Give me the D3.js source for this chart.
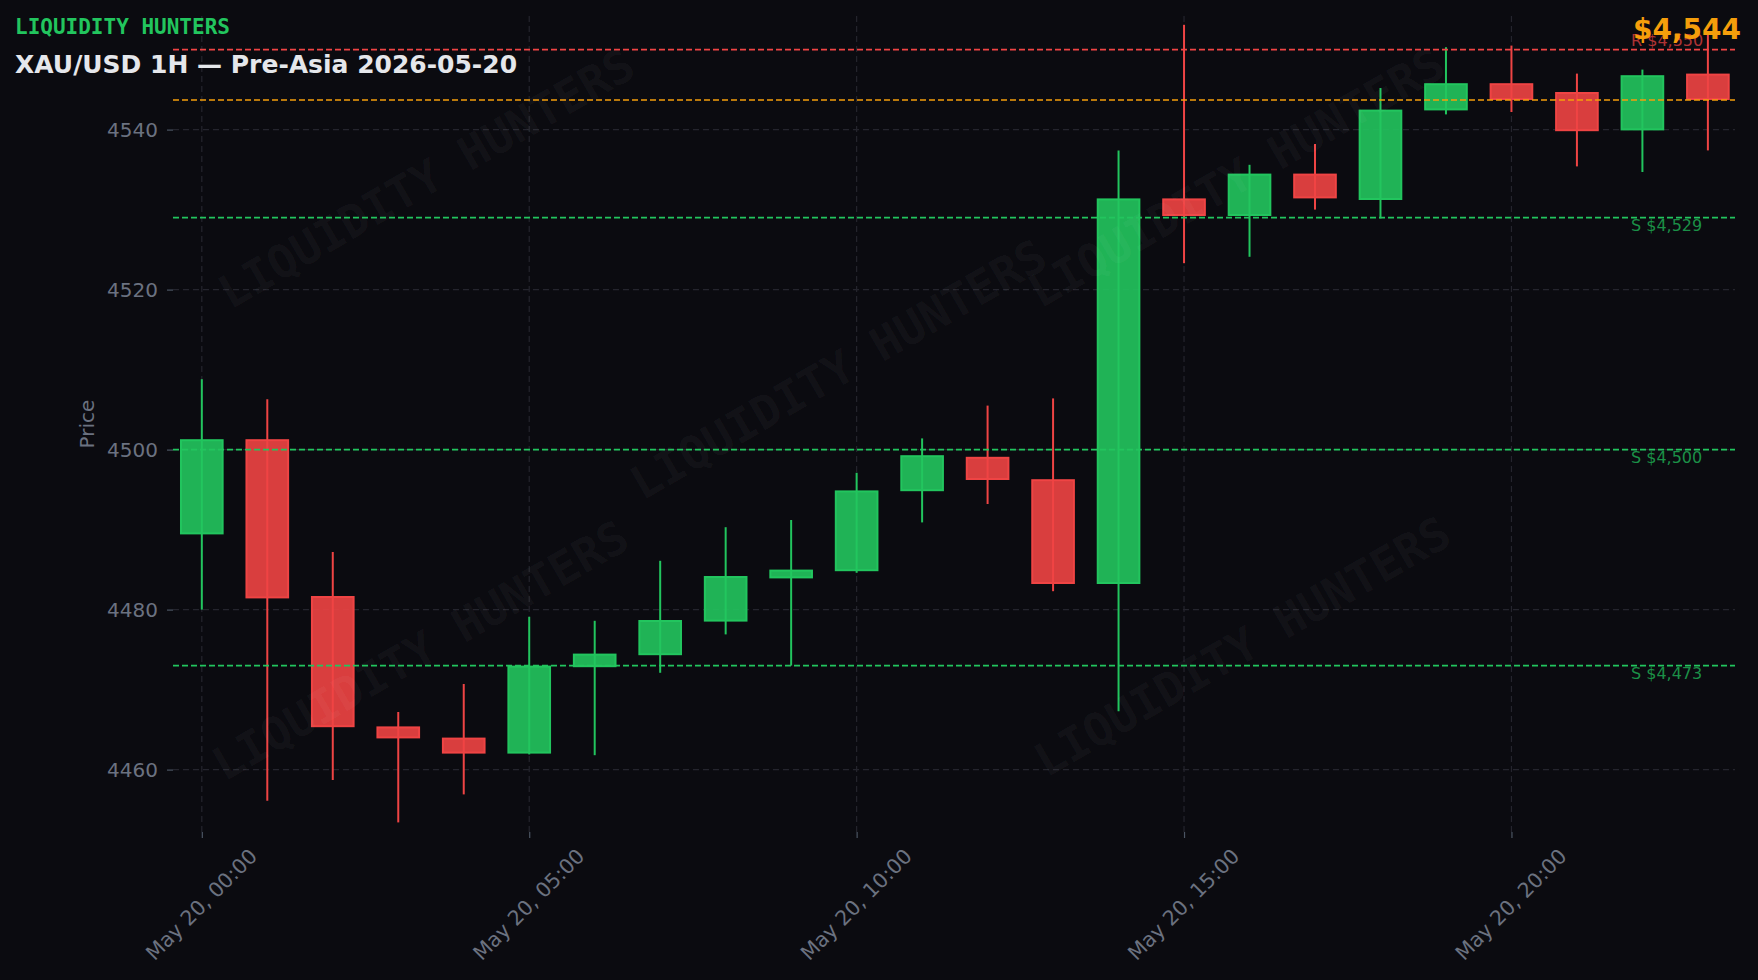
<!DOCTYPE html>
<html><head><meta charset="utf-8">
<script src="https://cdn.jsdelivr.net/npm/d3@7"></script>
<style>
html,body{margin:0;padding:0;background:#0b0b10;}
svg{display:block;}
</style></head><body>
<svg id="chart" width="1758" height="980"></svg>
<script>
// ---------- data ----------
const brand = "LIQUIDITY HUNTERS";
const title = "XAU/USD 1H — Pre-Asia 2026-05-20";
const sessionDate = "2026-05-20";
const hourLabels = ["00:00","01:00","02:00","03:00","04:00","05:00","06:00","07:00","08:00","09:00","10:00","11:00",
                    "12:00","13:00","14:00","15:00","16:00","17:00","18:00","19:00","20:00","21:00","22:00","23:00"];
const opens  = [4489.4,4501.3,4481.7,4465.4,4464.0,4462.0,4472.8,4474.3,4478.5,4483.9,4484.8,4494.8,
                4499.1,4496.3,4483.2,4531.4,4529.2,4534.5,4531.2,4542.4,4545.8,4544.7,4539.9,4547.0];
const highs  = [4508.8,4506.3,4487.2,4467.2,4470.7,4479.1,4478.6,4486.1,4490.3,4491.2,4497.1,4501.4,
                4505.5,4506.4,4537.4,4553.1,4535.6,4538.2,4545.2,4550.3,4550.5,4547.0,4547.5,4552.0];
const lows   = [4480.0,4456.1,4458.7,4453.4,4456.9,4461.9,4461.8,4472.1,4476.9,4473.0,4484.6,4490.9,
                4493.2,4482.3,4467.3,4523.3,4524.1,4530.0,4528.9,4541.9,4542.2,4535.4,4534.7,4537.4];
const closes = [4501.3,4481.4,4465.3,4463.9,4462.0,4473.0,4474.5,4478.7,4484.2,4485.0,4494.9,4499.3,
                4496.2,4483.2,4531.4,4529.2,4534.5,4531.4,4542.5,4545.8,4543.7,4539.8,4546.8,4543.7];
const resistanceLevels = [4550];
const supportLevels = [4529, 4500, 4473];
const currentPrice = 4543.7;
const yTickValues = [4460, 4480, 4500, 4520, 4540];
const yAxisTitle = "Price";

// ---------- layout ----------
const W = 1758, H = 980;
const M = {left: 173, right: 1735, top: 16, bottom: 832};
const C = {bg:"#0b0b10", green:"#22c55e", red:"#ef4444", orange:"#f59e0b", grid:"#25252e",
           tick:"#6b7280", title:"#e5e7eb"};
const HOUR = 3600e3;

const candles = hourLabels.map((h, i) => ({
  t: new Date(`${sessionDate}T${h}:00Z`),
  o: opens[i], h: highs[i], l: lows[i], c: closes[i]
}));
const t0 = candles[0].t.getTime();
const tN = candles[candles.length - 1].t.getTime();

const x = d3.scaleUtc()
  .domain([new Date(t0 - 0.44 * HOUR), new Date(tN + 0.414 * HOUR)])
  .range([M.left, M.right]);
const y = d3.scaleLinear().domain([4452.2, 4554.2]).range([M.bottom, M.top]);

const svg = d3.select("#chart");
svg.append("rect").attr("width", W).attr("height", H).attr("fill", C.bg);

svg.append("defs").append("clipPath").attr("id", "plotclip")
  .append("rect").attr("x", M.left).attr("y", M.top)
  .attr("width", M.right - M.left).attr("height", M.bottom - M.top);

// ---------- grid ----------
const xTicks = d3.utcHour.every(5).range(new Date(t0), new Date(tN + 1));
const grid = svg.append("g");
grid.selectAll(".gy").data(yTickValues).join("line")
  .attr("x1", M.left).attr("x2", M.right)
  .attr("y1", d => y(d)).attr("y2", d => y(d))
  .attr("stroke", C.grid).attr("stroke-width", 1.2).attr("stroke-dasharray", "6,4");
grid.selectAll(".gx").data(xTicks).join("line")
  .attr("x1", d => x(d)).attr("x2", d => x(d))
  .attr("y1", M.top).attr("y2", M.bottom)
  .attr("stroke", C.grid).attr("stroke-width", 1.2).attr("stroke-dasharray", "6,4");

// ---------- axes ----------
const xAxis = svg.append("g").attr("transform", `translate(0,${M.bottom})`)
  .call(d3.axisBottom(x).tickValues(xTicks).tickFormat(d3.utcFormat("%b %d, %H:%M")).tickSize(6));
xAxis.select(".domain").remove();
xAxis.selectAll(".tick line").attr("stroke", "#4b5563").attr("stroke-width", 1.2);
xAxis.selectAll(".tick text")
  .attr("y", 0).attr("dy", "0.35em")
  .attr("transform", "translate(-1,72.5) rotate(-45)")
  .attr("text-anchor", "middle")
  .attr("fill", C.tick).style("font", "20.5px 'DejaVu Sans'");

const yAxis = svg.append("g").attr("transform", `translate(${M.left},0)`)
  .call(d3.axisLeft(y).tickValues(yTickValues).tickFormat(d3.format("d")).tickSize(6).tickPadding(9));
yAxis.select(".domain").remove();
yAxis.selectAll(".tick line").attr("stroke", "#4b5563").attr("stroke-width", 1.2);
yAxis.selectAll(".tick text").attr("fill", C.tick).style("font", "20px 'DejaVu Sans'");

svg.append("text")
  .attr("transform", `translate(87,${(M.top + M.bottom) / 2}) rotate(-90)`)
  .attr("text-anchor", "middle").attr("dy", "0.35em")
  .attr("fill", C.tick).style("font", "20px 'DejaVu Sans'")
  .text(yAxisTitle);

// ---------- candles ----------
const bw = x(new Date(t0 + HOUR / 3)) - x(new Date(t0 - HOUR / 3));
const cg = svg.append("g").attr("clip-path", "url(#plotclip)");
const col = d => d.c >= d.o ? C.green : C.red;
cg.selectAll(".wick").data(candles).join("line")
  .attr("x1", d => x(d.t)).attr("x2", d => x(d.t))
  .attr("y1", d => y(d.h)).attr("y2", d => y(d.l))
  .attr("stroke", col).attr("stroke-width", 2);
cg.selectAll(".body").data(candles).join("rect")
  .attr("x", d => x(d.t) - bw / 2 + 1)
  .attr("width", bw - 2)
  .attr("y", d => y(Math.max(d.o, d.c)) + 1)
  .attr("height", d => Math.max(1, y(Math.min(d.o, d.c)) - y(Math.max(d.o, d.c)) - 2))
  .attr("fill", col).attr("fill-opacity", 0.9)
  .attr("stroke", col).attr("stroke-width", 2);

// ---------- watermark ----------
const wmCenters = [[426,178],[838,369],[1236,177],[420,650],[1242,646]];
const wm = svg.append("g").attr("clip-path", "url(#plotclip)");
wm.selectAll("text").data(wmCenters).join("text")
  .attr("transform", d => `translate(${d[0]},${d[1]}) rotate(-30)`)
  .attr("text-anchor", "middle").attr("dy", "0.36em")
  .attr("fill", "#ffffff").attr("fill-opacity", 0.045)
  .style("font", "bold 46px 'DejaVu Sans Mono'")
  .text(brand);

// ---------- levels ----------
const fmt = d3.format("$,.0f");
const lv = svg.append("g");
const levels = [
  ...resistanceLevels.map(v => ({v, kind: "R", color: C.red})),
  ...supportLevels.map(v => ({v, kind: "S", color: C.green}))
];
lv.selectAll(".lvl").data(levels).join("line")
  .attr("x1", M.left).attr("x2", M.right)
  .attr("y1", d => y(d.v)).attr("y2", d => y(d.v))
  .attr("stroke", d => d.color).attr("stroke-width", 1.6).attr("stroke-dasharray", "6,3");
lv.append("line")
  .attr("x1", M.left).attr("x2", M.right)
  .attr("y1", y(currentPrice)).attr("y2", y(currentPrice))
  .attr("stroke", C.orange).attr("stroke-width", 1.6).attr("stroke-dasharray", "6,3");
lv.selectAll(".lbl").data(levels).join("text")
  .attr("x", 1631)
  .attr("y", d => d.kind === "R" ? y(d.v) - 4 : y(d.v) + 13)
  .attr("fill", d => d.color).attr("fill-opacity", 0.72)
  .style("font", "16px 'DejaVu Sans'")
  .text(d => `${d.kind} ${fmt(d.v)}`);

// ---------- header texts ----------
svg.append("text").attr("x", 15).attr("y", 33.5)
  .attr("fill", C.green).style("font", "bold 21px 'DejaVu Sans Mono'").text(brand);
svg.append("text").attr("x", 15).attr("y", 73)
  .attr("fill", C.title).style("font", "bold 25px 'DejaVu Sans'").text(title);
svg.append("text").attr("x", 1741).attr("y", 38.5).attr("text-anchor", "end")
  .attr("fill", C.orange).style("font", "bold 28px 'DejaVu Sans'").text(fmt(currentPrice));
</script>
</body></html>
